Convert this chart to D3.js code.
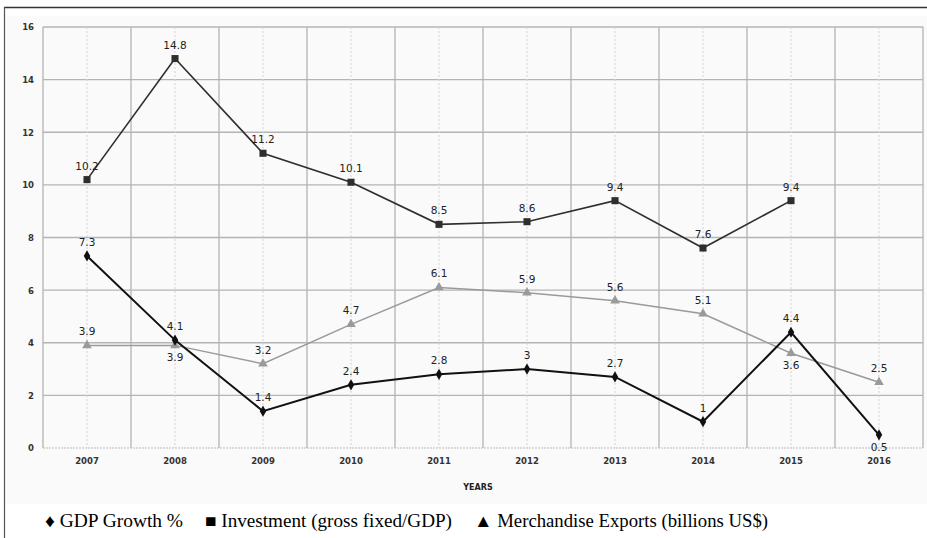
<!DOCTYPE html>
<meta charset="utf-8">
<style>
body { margin: 0; background: #fff; }
text { font-family: 'DejaVu Sans', Verdana, sans-serif; }
.tick text { font-size: 8.5px; font-weight: bold; fill: #333; }
.legend text { font-family: 'Liberation Serif', 'Times New Roman', serif; font-size: 18px; fill: #000; }
</style>
<body>
<script src="https://d3js.org/d3.v7.min.js"></script>
<script>
	var years = ["2007", "2008", "2009", "2010", "2011", "2012", "2013", "2014", "2015", "2016"];
	var gdpGrowth = [7.3, 4.1, 1.4, 2.4, 2.8, 3, 2.7, 1, 4.4, 0.5];
	var investment = [10.2, 14.8, 11.2, 10.1, 8.5, 8.6, 9.4, 7.6, 9.4, null];
	var exportsUS = [3.9, 3.9, 3.2, 4.7, 6.1, 5.9, 5.6, 5.1, 3.6, 2.5];
	var yTicks = [0, 2, 4, 6, 8, 10, 12, 14, 16];

	// labels drawn under the point instead of above
	var gdpBelow = [9];
	var expBelow = [1, 8];

	var width = 927, height = 538;
	var plotLeft = 43, plotRight = 923, plotTop = 27, plotBottom = 448;

	var svg = d3.select("body").append("svg")
		.attr("width", width)
		.attr("height", height);

	// chart panel
	svg.append("rect")
		.attr("x", 5).attr("y", 16)
		.attr("width", 922).attr("height", 488)
		.attr("fill", "#fafafa");
	svg.append("line")
		.attr("x1", 4).attr("x2", width).attr("y1", 7.5).attr("y2", 7.5)
		.style("stroke", "#333").style("stroke-width", 1.5);
	svg.append("line")
		.attr("x1", 4.5).attr("x2", 4.5).attr("y1", 7).attr("y2", height)
		.style("stroke", "#555").style("stroke-width", 1.2);

	var x = d3.scaleBand().domain(years).range([plotLeft, plotRight]);
	var y = d3.scaleLinear().domain([0, 16]).range([plotBottom, plotTop]);
	var cx = function(i) { return x(years[i]) + x.bandwidth() / 2; };

	// horizontal grid
	svg.append("g").selectAll("line")
		.data(yTicks.filter(function(d) { return d > 0; }))
		.enter().append("line")
			.attr("x1", plotLeft).attr("x2", plotRight)
			.attr("y1", function(d) { return y(d); })
			.attr("y2", function(d) { return y(d); })
			.style("stroke", "#b4b4b4").style("stroke-width", 1.3);
	// baseline
	svg.append("line")
		.attr("x1", plotLeft).attr("x2", plotRight).attr("y1", y(0)).attr("y2", y(0))
		.style("stroke", "#bbb").style("stroke-width", 1).style("stroke-dasharray", "2,1");

	// vertical band boundaries (solid) and centres (dotted)
	svg.append("g").selectAll("line")
		.data(years.concat(["end"]))
		.enter().append("line")
			.attr("x1", function(d, i) { return plotLeft + i * x.bandwidth(); })
			.attr("x2", function(d, i) { return plotLeft + i * x.bandwidth(); })
			.attr("y1", plotTop).attr("y2", plotBottom)
			.style("stroke", "#b4b4b4").style("stroke-width", 1.3);
	svg.append("g").selectAll("line")
		.data(years)
		.enter().append("line")
			.attr("x1", function(d, i) { return cx(i); })
			.attr("x2", function(d, i) { return cx(i); })
			.attr("y1", plotTop).attr("y2", plotBottom)
			.style("stroke", "#d2d2d2").style("stroke-width", 1).style("stroke-dasharray", "2,2");

	// axes
	var yAxis = svg.append("g")
		.attr("transform", "translate(" + (plotLeft - 9) + ",0)")
		.call(d3.axisLeft(y).tickValues(yTicks).tickSize(0).tickPadding(0));
	yAxis.select(".domain").remove();
	yAxis.selectAll("text").attr("dy", "0.35em");

	var xAxis = svg.append("g")
		.attr("transform", "translate(0," + plotBottom + ")")
		.call(d3.axisBottom(x).tickSize(0).tickPadding(10));
	xAxis.select(".domain").remove();

	svg.append("text")
		.attr("x", 478).attr("y", 490)
		.attr("text-anchor", "middle")
		.style("font-size", "8px").style("font-weight", "bold").style("fill", "#222")
		.text("YEARS");

	var line = d3.line()
		.defined(function(d) { return d != null; })
		.x(function(d, i) { return cx(i); })
		.y(function(d) { return y(d); });

	function drawSeries(values, colour, lineWidth, symbolType, symbolSize, below) {
		svg.append("path")
			.datum(values)
			.attr("fill", "none")
			.attr("stroke", colour)
			.attr("stroke-width", lineWidth)
			.attr("d", line);

		var pts = values.map(function(v, i) { return {v: v, i: i}; })
			.filter(function(d) { return d.v != null; });

		svg.append("g").selectAll("path")
			.data(pts)
			.enter().append("path")
				.attr("transform", function(d) { return "translate(" + cx(d.i) + "," + y(d.v) + ")"; })
				.attr("d", d3.symbol().type(symbolType).size(symbolSize))
				.attr("fill", colour);

		svg.append("g").selectAll("text")
			.data(pts)
			.enter().append("text")
				.attr("x", function(d) { return cx(d.i); })
				.attr("y", function(d) { return y(d.v) + (below.indexOf(d.i) >= 0 ? 16 : -10); })
				.attr("text-anchor", "middle")
				.style("font-size", "10.5px").style("fill", "#222")
				.text(function(d) { return d.v; });
	}

	drawSeries(exportsUS, "#9a9a9a", 1.5, d3.symbolTriangle, 40, expBelow);
	drawSeries(investment, "#2e2e2e", 1.6, d3.symbolSquare, 50, []);
	drawSeries(gdpGrowth, "#111", 2, d3.symbolDiamond, 36, gdpBelow);

	// legend
	var legend = svg.append("g").attr("class", "legend");
	legend.append("text").attr("x", 45).attr("y", 527)
		.attr("textLength", 138).attr("lengthAdjust", "spacingAndGlyphs").text("\u2666 GDP Growth %");
	legend.append("text").attr("x", 205).attr("y", 527)
		.attr("textLength", 247).attr("lengthAdjust", "spacingAndGlyphs").text("\u25A0 Investment (gross fixed/GDP)");
	legend.append("text").attr("x", 474).attr("y", 527)
		.attr("textLength", 294).attr("lengthAdjust", "spacingAndGlyphs").text("\u25B2 Merchandise Exports (billions US$)");
</script>
</body>
</html>
